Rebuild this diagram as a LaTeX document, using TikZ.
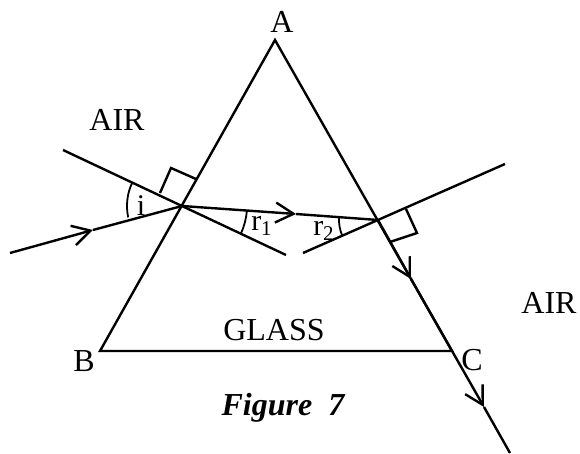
\documentclass[tikz,border=0pt]{standalone}
\usepackage{fontspec}
\setmainfont{Liberation Serif}
\usepackage{tikz}
\usetikzlibrary{arrows.meta, calc}

\begin{document}
\begin{tikzpicture}[
        x=0.5pt, y=-0.5pt,
        line width=1.2pt,
        lbl/.style     = {inner sep=0pt, font=\fontsize{16}{18}\selectfont},
        ang/.style     = {inner sep=0pt, font=\fontsize{15}{17}\selectfont},
        figtitle/.style= {inner sep=0pt, font=\fontsize{16}{18}\selectfont\bfseries\itshape},
        ray/.style     = {-{Straight Barb[length=9pt,width=10pt,line width=1.2pt]}},
    ]
        \useasboundingbox (0,0) rectangle (580,454);
        % Prism corners
        \coordinate (A) at (275,40);
        \coordinate (B) at (100,351);
        \coordinate (C) at (452,351);
        % Points where the ray meets the faces
        \coordinate (P) at (182,206);
        \coordinate (Q) at (378,220);
        % Ray points
        \coordinate (src) at (10,253);
        \coordinate (m1) at (93,230);
        \coordinate (m2) at (296,214);
        \coordinate (m3) at (411,279);
        \coordinate (m4) at (484,407);
        \coordinate (out) at (510,453);
        % Normals
        \coordinate (n1a) at (63,150);
        \coordinate (n1b) at (286,255);
        \coordinate (n2a) at (303,253);
        \coordinate (n2b) at (505,164);

        % Prism
        \draw (A) -- (B) -- (C) -- cycle;

        % Normals
        \draw (n1a) -- (n1b);
        \draw (n2a) -- (n2b);

        % Right-angle marks
        \draw (160,193) -- (171,168) -- (196,179);
        \draw (390,242) -- (417,233) -- (406,209);

        % Ray
        \draw[ray] (src) -- (m1);
        \draw (m1) -- (P);
        \draw[ray] (P) -- (m2);
        \draw (m2) -- (Q);
        \draw[ray] (Q) -- (m3);
        \draw[ray] (m3) -- (m4);
        \draw (m4) -- (out);

        % Angles
        \draw[line width=0.9pt] ([shift={(154:27.5pt)}]P) arc[start angle=154, end angle=192, radius=27.5pt];
        \draw[line width=0.9pt] ([shift={(-25:32.5pt)}]P) arc[start angle=-25, end angle=-4, radius=32.5pt];
        \draw[line width=0.9pt] ([shift={(176:19.5pt)}]Q) arc[start angle=176, end angle=204, radius=19.5pt];
        \node[ang] (li) at (141,206) {i};
        \node[ang] (lr1) at (262,226) {r\textsubscript{1}};
        \node[ang] (lr2) at (324,231) {r\textsubscript{2}};

        % Labels
        \node[lbl] (lA) at (282,22) {A};
        \node[lbl] (lB) at (84,361) {B};
        \node[lbl] (lC) at (472,360) {C};
        \node[lbl] (air1) at (117,120) {AIR};
        \node[lbl] (air2) at (549,303) {AIR};
        \node[lbl] (glass) at (274,330) {GLASS};
        \node[figtitle] (fig) at (283,408) {Figure\ \ 7};
    \end{tikzpicture}
\end{document}
